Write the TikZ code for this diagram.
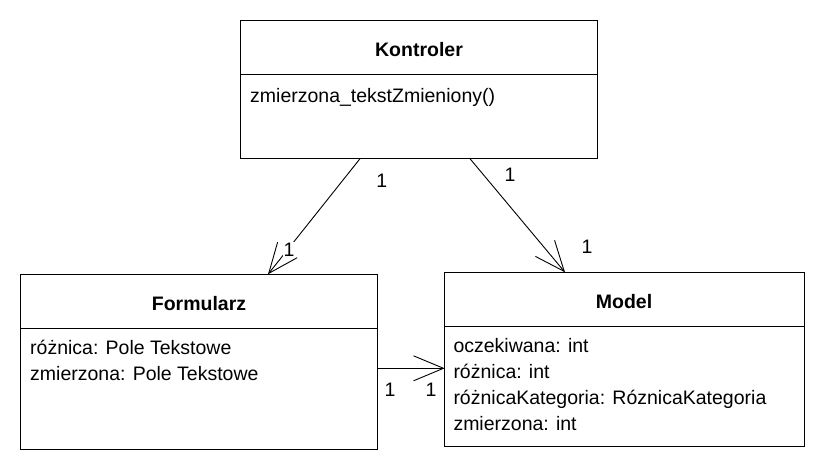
\documentclass[tikz,border=0pt]{standalone}
\usepackage{fontspec}
\setmainfont{Liberation Sans}
\usetikzlibrary{arrows.meta,calc}
\begin{document}
\begin{tikzpicture}[x=1pt,y=-1pt,
  classbox/.style={draw,line width=1pt,inner sep=0pt,outer sep=0pt,anchor=north west},
  ttl/.style={font=\fontsize{19.5}{23}\selectfont\bfseries,inner sep=0pt},
  attr/.style={font=\fontsize{19.5}{23}\selectfont,inner sep=0pt,anchor=base west},
  mult/.style={font=\fontsize{19.5}{23}\selectfont,inner sep=1pt},
  assoc/.style={line width=0.9pt,-{Straight Barb[length=30pt,width=25pt,line width=0.9pt]}}]
\useasboundingbox[fill=white] (0,0) rectangle (822,470);
% boxes
\node[classbox,minimum width=357pt,minimum height=138pt] (kont) at (240.7,20.7) {};
\node[classbox,minimum width=357pt,minimum height=174.7pt] (form) at (20.7,274.3) {};
\node[classbox,minimum width=359.6pt,minimum height=174.4pt] (model) at (444.7,272.3) {};
% dividers
\draw[line width=1pt] ([yshift=-53.6pt]kont.north west) -- ([yshift=-53.6pt]kont.north east);
\draw[line width=1pt] ([yshift=-54pt]form.north west) -- ([yshift=-54pt]form.north east);
\draw[line width=1pt] ([yshift=-54.4pt]model.north west) -- ([yshift=-54.4pt]model.north east);
% titles
\node[ttl] (kt) at (419,50) {Kontroler};
\node[ttl] (ft) at (199,304) {Formularz};
\node[ttl] (mt) at (624,302) {Model};
% contents
\node[attr] (k1) at (250,102.5) {zmierzona\_tekstZmieniony()};
\node[attr] (f1) at (30,354.3) {różnica: Pole Tekstowe};
\node[attr] (f2) at (30,380) {zmierzona: Pole Tekstowe};
\node[attr] (m1) at (453.3,352.3) {oczekiwana: int};
\node[attr] (m2) at (453.3,378.3) {różnica: int};
\node[attr] (m3) at (453.3,404.3) {różnicaKategoria: RóznicaKategoria};
\node[attr] (m4) at (453.3,430) {zmierzona: int};
% connectors
\draw[assoc] ([xshift=119.3pt]kont.south west) -- ([xshift=247.3pt]form.north west);
\draw[assoc] ([xshift=229.3pt]kont.south west) -- ([xshift=120.3pt]model.north west);
\coordinate (fm) at ($(form.north east)+(0,94)$);
\draw[assoc] (fm) -- (fm -| model.west);
% multiplicities
\node[mult] (a1) at (381.7,181) {1};
\node[mult,fill=white] (a2) at (289,250) {1};
\node[mult] (b1) at (510,175) {1};
\node[mult] (b2) at (587,247) {1};
\node[mult] (c1) at (390,389.5) {1};
\node[mult] (c2) at (431,389.5) {1};
\end{tikzpicture}
\end{document}
